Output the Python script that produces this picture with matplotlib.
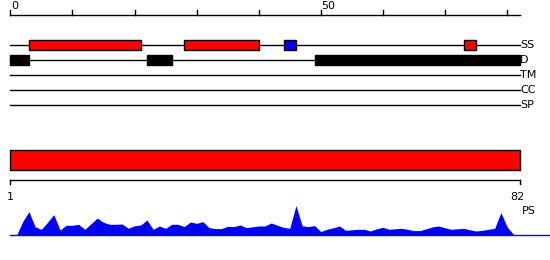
import numpy as np
import matplotlib
matplotlib.use("Agg")
import matplotlib.pyplot as plt
from matplotlib.font_manager import findfont, FontProperties

# sequence / feature data
seq_len = 82
track_names = ["SS", "D", "TM", "CC", "SP"]
ss_starts = [3, 28, 44, 73]
ss_ends = [21, 40, 46, 75]
ss_colors = ["#ff0000", "#ff0000", "#0000ff", "#ff0000"]
dis_starts = [0, 22, 49]
dis_ends = [3, 26, 82]
domain_starts = [0]
domain_ends = [82]
domain_colors = ["#ff0000"]
ps_values = [0, 0, 13.7, 23.7, 8.5, 6, 13, 20.7, 5.3, 10,
             10, 11, 6, 11.5, 17.3, 13, 11, 11, 11.3, 7,
             9.5, 10.3, 15.3, 6, 9.3, 7, 11, 11, 8.7, 13.3,
             12, 13.7, 7.7, 6.7, 6.7, 9, 8.7, 10.3, 7.7, 8.5,
             9.3, 9.3, 12.3, 10, 8, 7, 29.7, 9.5, 8.7, 9.7,
             3.7, 6, 7.5, 9.3, 5, 5.5, 6, 6, 4.3, 6.5,
             8, 6, 6.5, 7, 6, 4.7, 4.7, 6.5, 8.5, 9.3,
             7.5, 6, 6.5, 7, 5.5, 4.3, 5, 6, 7, 22.7,
             8.5, 1, 0]
top_ticks = np.arange(0, 90, 10)
top_labels = {0: "0", 50: "50"}

W, H = 550, 260
px_per_res = 6.21
x0 = 10.3
xlim = (-x0 / px_per_res, (W - x0) / px_per_res)

fp = "Liberation Sans Narrow"
try:
    findfont(FontProperties(family=fp), fallback_to_default=False)
except Exception:
    fp = "DejaVu Sans"
plt.rcParams["font.family"] = [fp, "DejaVu Sans"]
fs = 8

fig = plt.figure(figsize=(W / 100, H / 100), dpi=100)
ax = fig.add_axes([0, 0, 1, 1])
ax.set_xlim(*xlim)
ax.set_ylim(H, 0)
ax.axis("off")

# top ruler
ruler_y = 14.7
ax.plot([0, seq_len + 0.1], [ruler_y, ruler_y], color="black", lw=1)
for t in top_ticks:
    ax.plot([t, t], [ruler_y, ruler_y - 4.5], color="black", lw=1)
    if t in top_labels:
        ax.text(t + 0.1, 9.3, top_labels[t], ha="left", va="baseline", fontsize=fs, color="black")

# tracks
track_y = [44.7, 60.3, 75.3, 90, 105.3]
for name, y in zip(track_names, track_y):
    ax.plot([0, seq_len + 0.1], [y, y], color="black", lw=1)
    ax.text(seq_len + 0.1, y, name, ha="left", va="center", fontsize=fs)

box_h = 10
for s, e, c in zip(ss_starts, ss_ends, ss_colors):
    ax.bar(s, box_h, width=e - s, bottom=track_y[0] - box_h / 2 + 0.5, align="edge",
           color=c, edgecolor="black", linewidth=1, zorder=3)
for s, e in zip(dis_starts, dis_ends):
    ax.bar(s, box_h, width=e - s, bottom=track_y[1] - box_h / 2, align="edge",
           color="black", edgecolor="black", linewidth=1, zorder=3)

# domain bar
for s, e, c in zip(domain_starts, domain_ends, domain_colors):
    ax.bar(s, 20, width=e - s, bottom=150.3, align="edge",
           color=c, edgecolor="black", linewidth=1, zorder=3)

# bottom ruler
by = 180.3
ax.plot([0, seq_len], [by, by], color="black", lw=1)
ax.plot([0, 0], [by, by + 4], color="black", lw=1)
ax.plot([seq_len, seq_len], [by, by + 4], color="black", lw=1)
ax.text(0, 199.5, "1", ha="center", va="baseline", fontsize=fs)
ax.text(seq_len - 0.3, 200.5, str(seq_len), ha="center", va="baseline", fontsize=fs)

# PS profile
base = 235.3
ps_x = np.arange(len(ps_values))
ps = np.array(ps_values)
ax.fill_between(ps_x, base - ps, base, color="#0000ff", lw=0, zorder=2)
ax.plot([0, xlim[1]], [base, base], color="#0000ff", lw=1)
ax.text(seq_len + 0.4, 210.5, "PS", ha="left", va="center", fontsize=fs)

fig.savefig("out.png", dpi=100)
